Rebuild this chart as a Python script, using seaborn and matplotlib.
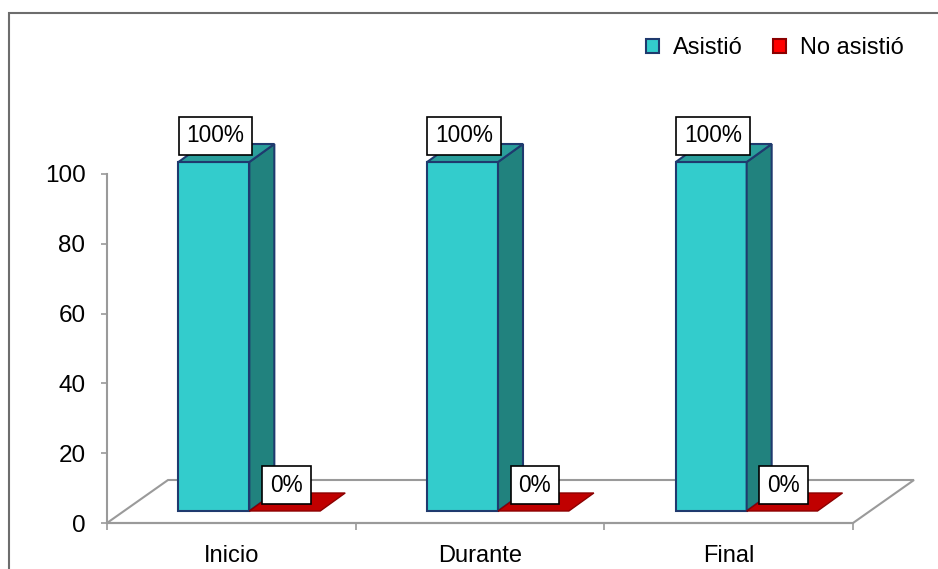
import matplotlib
matplotlib.use("Agg")
import matplotlib.pyplot as plt
import matplotlib.transforms as mtransforms
from matplotlib.patches import Polygon, Rectangle
import numpy as np
import pandas as pd
import seaborn as sns


MOMENTOS = ["Inicio", "Durante", "Final"]
SERIES = ["Asistió", "No asistió"]
ASISTIO = [100, 100, 100]
NO_ASISTIO = [0, 0, 0]
Y_TICKS = [0, 20, 40, 60, 80, 100]

FRONT = {"Asistió": "#33CCCC", "No asistió": "#C00000"}
TOP = {"Asistió": "#2A9E9B", "No asistió": "#C00000"}
SIDE = {"Asistió": "#21827E", "No asistió": "#900000"}
EDGE = {"Asistió": "#1F3A6E", "No asistió": "#8B0000"}
LEGEND_FC = {"Asistió": "#33CCCC", "No asistió": "#FF0000"}
GRAY = "#9A9A9A"

# fake 3d offsets, in pixels (y up)
BAR_SHIFT = np.array([18, 12])
BAR_DEPTH = np.array([25, 18])
FLOOR_DEPTH = np.array([61, 43])

plt.rcParams["font.family"] = ["Liberation Sans", "DejaVu Sans"]

df = pd.DataFrame({
    "momento": MOMENTOS * 2,
    "valor": ASISTIO + NO_ASISTIO,
    "serie": [SERIES[0]] * len(MOMENTOS) + [SERIES[1]] * len(MOMENTOS),
})

fig = plt.figure(figsize=(9.38, 5.69), dpi=100)
ax = fig.add_axes([107 / 938, 46 / 569, 746 / 938, 349 / 569])

sns.barplot(data=df, x="momento", y="valor", hue="serie", hue_order=SERIES,
            palette=FRONT, saturation=1, width=0.57, legend=False, ax=ax)
ax.set_xlim(-0.5, 2.5)
ax.set_ylim(0, 100)

ident = mtransforms.IdentityTransform()
shift = mtransforms.ScaledTranslation(BAR_SHIFT[0] / 100, BAR_SHIFT[1] / 100, fig.dpi_scale_trans)


def add_face(pts, fc, ec, lw, z):
    poly = Polygon(pts, closed=True, facecolor=fc, edgecolor=ec, lw=lw,
                   transform=ident, zorder=z, clip_on=False)
    ax.add_patch(poly)


# floor
p0 = ax.transData.transform((-0.5, 0))
p1 = ax.transData.transform((2.5, 0))
add_face([p0, p1, p1 + FLOOR_DEPTH, p0 + FLOOR_DEPTH], "white", GRAY, 1.5, 0.5)

values = ASISTIO + NO_ASISTIO
bars = list(ax.patches[:len(values)])
for i, bar in enumerate(bars):
    serie = SERIES[i // len(MOMENTOS)]
    x0, w, h = bar.get_x(), bar.get_width(), bar.get_height()

    def p(x, y):
        return ax.transData.transform((x, y)) + BAR_SHIFT

    fl, fr, tl, tr = p(x0, 0), p(x0 + w, 0), p(x0, h), p(x0 + w, h)
    if h > 0:
        bar.set_transform(ax.transData + shift)
        bar.set_edgecolor(EDGE[serie])
        bar.set_linewidth(1.5)
        bar.set_clip_on(False)
        bar.set_zorder(3)
        add_face([fr, tr, tr + BAR_DEPTH, fr + BAR_DEPTH], SIDE[serie], EDGE[serie], 1.5, 3)
        add_face([tl, tr, tr + BAR_DEPTH, tl + BAR_DEPTH], TOP[serie], EDGE[serie], 1.5, 3)
    else:
        bar.set_visible(False)
        add_face([fl, fr, fr + BAR_DEPTH, fl + BAR_DEPTH], TOP[serie], EDGE[serie], 1.0, 3)

    ax.annotate(f"{values[i]}%", xy=(x0 + w / 2, h), xytext=(19.5 * 0.72, 38 * 0.72),
                textcoords="offset points", ha="center", va="center", fontsize=16.3,
                bbox=dict(boxstyle="square,pad=0.35", fc="white", ec="black", lw=1.2),
                zorder=6, annotation_clip=False)

for s in ["top", "right"]:
    ax.spines[s].set_visible(False)
ax.spines["left"].set_color(GRAY)
ax.spines["bottom"].set_color(GRAY)
ax.spines["left"].set_linewidth(1.5)
ax.spines["bottom"].set_linewidth(1.5)
ax.set_facecolor("none")

ax.set_xticks(range(len(MOMENTOS)))
ax.set_xticklabels(MOMENTOS)
ax.set_xticks([-0.5, 0.5, 1.5, 2.5], minor=True)
ax.set_yticks(Y_TICKS)
ax.tick_params(axis="x", which="major", length=0, pad=15.5, labelsize=17)
ax.tick_params(axis="x", which="minor", length=5, width=1.2, color=GRAY)
ax.tick_params(axis="y", length=4.5, width=1.2, color=GRAY, pad=11, labelsize=17.5)
ax.set_xlabel("")
ax.set_ylabel("")

handles = [Rectangle((0, 0), 1, 1, facecolor=LEGEND_FC[s], edgecolor=EDGE[s], lw=1.5) for s in SERIES]
fig.legend(handles, SERIES, loc="center right", bbox_to_anchor=(916 / 938, 1 - 48 / 569),
           ncol=2, frameon=False, fontsize=17, handlelength=0.55, handleheight=0.55,
           handletextpad=0.6, columnspacing=1.3, borderpad=0)

border = Rectangle((9 / 938, -0.1), 1.2, 1.1 - 13 / 569, transform=fig.transFigure,
                   fill=False, edgecolor="#6D6D6D", lw=1.5)
fig.add_artist(border)

fig.savefig("out.png", dpi=100)
